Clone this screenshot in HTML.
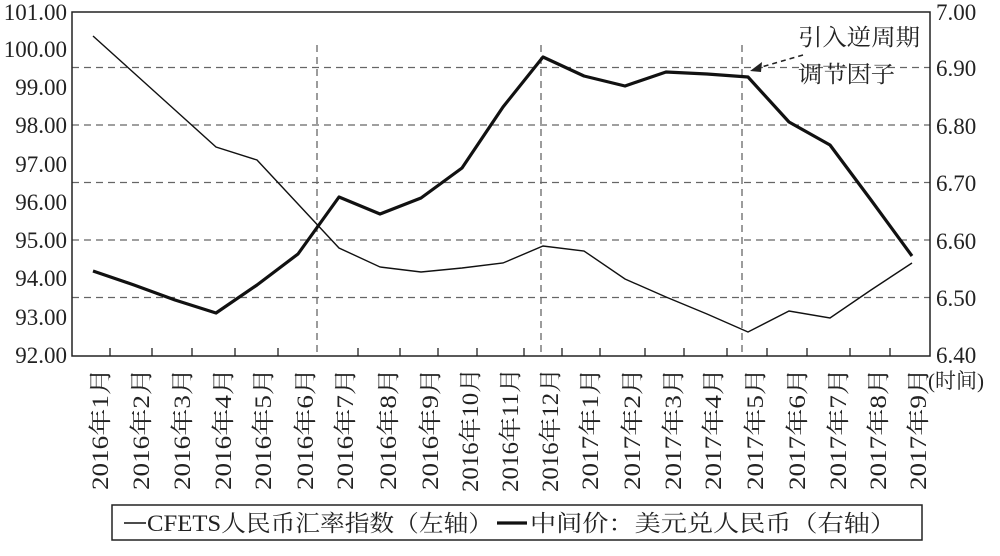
<!DOCTYPE html>
<html><head><meta charset="utf-8"><style>
body{margin:0;background:#fff}
text{font-family:"Liberation Serif","Noto Serif CJK SC",serif;fill:#222}
</style></head><body>
<svg width="1000" height="551" viewBox="0 0 1000 551" xmlns="http://www.w3.org/2000/svg">
<g stroke="#666" stroke-width="1.3" stroke-dasharray="7,5" fill="none">
<line x1="72" y1="67.5" x2="930" y2="67.5"/>
<line x1="72" y1="125" x2="930" y2="125"/>
<line x1="72" y1="182.5" x2="930" y2="182.5"/>
<line x1="72" y1="240" x2="930" y2="240"/>
<line x1="72" y1="297.5" x2="930" y2="297.5"/>
<line x1="317" y1="45" x2="317" y2="356"/>
<line x1="541" y1="45" x2="541" y2="356"/>
<line x1="742" y1="45" x2="742" y2="356"/>
</g>
<rect x="72" y="12" width="858" height="344" fill="none" stroke="#222" stroke-width="1.5"/>
<g stroke="#222" stroke-width="1.3">
<line x1="110" y1="356" x2="110" y2="348"/><line x1="152" y1="356" x2="152" y2="348"/><line x1="192" y1="356" x2="192" y2="348"/><line x1="235" y1="356" x2="235" y2="348"/><line x1="278" y1="356" x2="278" y2="348"/><line x1="358" y1="356" x2="358" y2="348"/><line x1="400" y1="356" x2="400" y2="348"/><line x1="438" y1="356" x2="438" y2="348"/><line x1="477" y1="356" x2="477" y2="348"/><line x1="524" y1="356" x2="524" y2="348"/><line x1="562" y1="356" x2="562" y2="348"/><line x1="600" y1="356" x2="600" y2="348"/><line x1="645" y1="356" x2="645" y2="348"/><line x1="684" y1="356" x2="684" y2="348"/><line x1="727" y1="356" x2="727" y2="348"/><line x1="767" y1="356" x2="767" y2="348"/><line x1="807" y1="356" x2="807" y2="348"/><line x1="850" y1="356" x2="850" y2="348"/><line x1="890" y1="356" x2="890" y2="348"/>
</g>
<polyline fill="none" stroke="#111" stroke-width="1.4" points="93,36 134,73 175,110 216,147 257,160 298,204 339,248 380,267 421,272 462,268 503,263 543,246 584,251 625,279 666,297 707,314 748,332 789,311 830,318 871,290 912,263"/>
<polyline fill="none" stroke="#111" stroke-width="3.2" stroke-linejoin="round" points="93,271 134,285 175,300 216,313 257,285 298,254 339,197 380,214 421,198 462,168 503,107 543,57 584,76 625,86 666,72 707,74 748,77 789,122 830,145 871,200 912,256"/>
<g font-size="23" text-anchor="end">
<text x="67" y="20">101.00</text><text x="67" y="57">100.00</text><text x="67" y="95">99.00</text><text x="67" y="133">98.00</text><text x="67" y="172">97.00</text><text x="67" y="210">96.00</text><text x="67" y="248">95.00</text><text x="67" y="286">94.00</text><text x="67" y="325">93.00</text><text x="67" y="363">92.00</text>
</g>
<g font-size="23">
<text x="936" y="20">7.00</text><text x="936" y="76">6.90</text><text x="936" y="134">6.80</text><text x="936" y="191">6.70</text><text x="936" y="249">6.60</text><text x="936" y="306">6.50</text><text x="936" y="363">6.40</text>
<text x="928" y="388" font-size="21">(时间)</text>
</g>
<g font-size="23" text-anchor="end">
<text transform="translate(108,368) rotate(-90)" textLength="122" lengthAdjust="spacingAndGlyphs">2016年1月</text>
<text transform="translate(149,368) rotate(-90)" textLength="122" lengthAdjust="spacingAndGlyphs">2016年2月</text>
<text transform="translate(190,368) rotate(-90)" textLength="122" lengthAdjust="spacingAndGlyphs">2016年3月</text>
<text transform="translate(231,368) rotate(-90)" textLength="122" lengthAdjust="spacingAndGlyphs">2016年4月</text>
<text transform="translate(271,368) rotate(-90)" textLength="122" lengthAdjust="spacingAndGlyphs">2016年5月</text>
<text transform="translate(313,368) rotate(-90)" textLength="122" lengthAdjust="spacingAndGlyphs">2016年6月</text>
<text transform="translate(353,368) rotate(-90)" textLength="122" lengthAdjust="spacingAndGlyphs">2016年7月</text>
<text transform="translate(396,368) rotate(-90)" textLength="122" lengthAdjust="spacingAndGlyphs">2016年8月</text>
<text transform="translate(438,368) rotate(-90)" textLength="122" lengthAdjust="spacingAndGlyphs">2016年9月</text>
<text transform="translate(478,368) rotate(-90)" textLength="124" lengthAdjust="spacingAndGlyphs">2016年10月</text>
<text transform="translate(518,368) rotate(-90)" textLength="124" lengthAdjust="spacingAndGlyphs">2016年11月</text>
<text transform="translate(558,368) rotate(-90)" textLength="124" lengthAdjust="spacingAndGlyphs">2016年12月</text>
<text transform="translate(598,368) rotate(-90)" textLength="122" lengthAdjust="spacingAndGlyphs">2017年1月</text>
<text transform="translate(640,368) rotate(-90)" textLength="122" lengthAdjust="spacingAndGlyphs">2017年2月</text>
<text transform="translate(681,368) rotate(-90)" textLength="122" lengthAdjust="spacingAndGlyphs">2017年3月</text>
<text transform="translate(721,368) rotate(-90)" textLength="122" lengthAdjust="spacingAndGlyphs">2017年4月</text>
<text transform="translate(763,368) rotate(-90)" textLength="122" lengthAdjust="spacingAndGlyphs">2017年5月</text>
<text transform="translate(805,368) rotate(-90)" textLength="122" lengthAdjust="spacingAndGlyphs">2017年6月</text>
<text transform="translate(846,368) rotate(-90)" textLength="122" lengthAdjust="spacingAndGlyphs">2017年7月</text>
<text transform="translate(886,368) rotate(-90)" textLength="122" lengthAdjust="spacingAndGlyphs">2017年8月</text>
<text transform="translate(926,368) rotate(-90)" textLength="122" lengthAdjust="spacingAndGlyphs">2017年9月</text>
</g>
<g font-size="23">
<text x="798" y="45" textLength="122" lengthAdjust="spacingAndGlyphs">引入逆周期</text>
<text x="798" y="82" textLength="97" lengthAdjust="spacingAndGlyphs">调节因子</text>
</g>
<line x1="803" y1="55" x2="758" y2="68" stroke="#222" stroke-width="1.5" stroke-dasharray="5,4"/>
<polygon points="750,71 762,62 761,72" fill="#222"/>
<rect x="112" y="505" width="810" height="35" fill="none" stroke="#222" stroke-width="1.5"/>
<line x1="124" y1="523" x2="146" y2="523" stroke="#111" stroke-width="1.4"/>
<text x="147" y="531" font-size="23" textLength="346" lengthAdjust="spacingAndGlyphs">CFETS人民币汇率指数（左轴）</text>
<line x1="497" y1="523" x2="527" y2="523" stroke="#111" stroke-width="3.2"/>
<text x="530" y="531" font-size="23" textLength="366" lengthAdjust="spacingAndGlyphs">中间价：美元兑人民币（右轴）</text>
</svg>
</body></html>
